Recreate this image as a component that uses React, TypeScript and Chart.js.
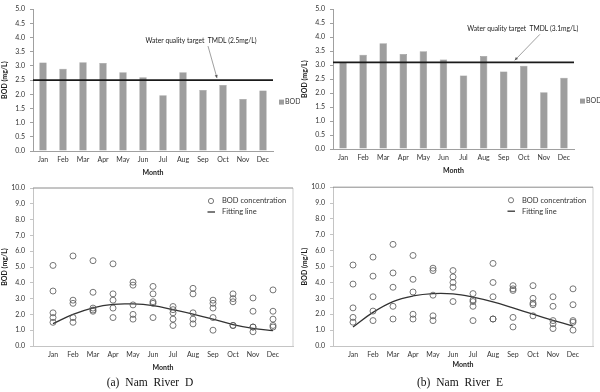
import React, { useEffect, useRef } from "react";
import { Chart, registerables } from "chart.js";
Chart.register(...registerables);

const months = ["Jan", "Feb", "Mar", "Apr", "May", "Jun", "Jul", "Aug", "Sep", "Oct", "Nov", "Dec"];

const bodBarD = [3.12, 2.9, 3.13, 3.1, 2.78, 2.6, 1.97, 2.78, 2.15, 2.33, 1.83, 2.13];
const bodBarE = [3.1, 3.37, 3.78, 3.4, 3.5, 3.2, 2.63, 3.33, 2.77, 2.98, 2.03, 2.55];
const targetD = 2.5;
const targetE = 3.1;
const targetLabelD = "Water quality target  TMDL (2.5mg/L)";
const targetLabelE = "Water quality target  TMDL (3.1mg/L)";

const scatterD = [
  [5.1, 3.48, 2.1, 1.8, 1.5],
  [5.7, 2.9, 2.7, 1.8, 1.5],
  [5.4, 3.4, 2.4, 2.28, 2.2],
  [5.2, 3.3, 2.9, 2.4, 1.8],
  [4.04, 3.85, 2.6, 2.0, 1.7],
  [3.77, 3.3, 2.8, 2.7, 1.8],
  [2.5, 2.3, 2.1, 1.7, 1.3],
  [3.65, 3.3, 2.1, 1.7, 1.4],
  [2.9, 2.7, 2.4, 1.8, 1.0],
  [3.3, 3.0, 2.8, 1.3, 1.3],
  [3.04, 2.2, 1.2, 1.2, 0.9],
  [3.55, 2.2, 1.7, 1.3, 1.2],
];
const fitD = [1.42, 2.0, 2.42, 2.64, 2.66, 2.55, 2.3, 2.02, 1.7, 1.36, 1.12, 0.98];

const scatterE = [
  [5.1, 3.9, 2.4, 1.8, 1.5],
  [5.6, 4.4, 3.1, 2.2, 1.6],
  [6.4, 4.6, 3.7, 2.5, 1.7],
  [5.7, 4.2, 3.4, 2.0, 1.7],
  [4.9, 4.75, 3.2, 1.9, 1.6],
  [4.75, 4.35, 4.0, 3.7, 2.8],
  [3.3, 2.9, 2.8, 2.5, 1.6],
  [5.2, 4.0, 3.1, 1.7, 1.7],
  [3.8, 3.6, 3.5, 1.8, 1.2],
  [3.8, 3.0, 2.7, 2.6, 1.9],
  [3.1, 2.5, 1.6, 1.4, 1.1],
  [3.6, 2.6, 1.6, 1.5, 1.0],
];
const fitE = [1.2, 2.12, 2.8, 3.15, 3.3, 3.28, 3.08, 2.78, 2.4, 2.0, 1.62, 1.25];

const FONT = "Lato, 'Liberation Sans', sans-serif";
const tickFont = { family: FONT, size: 7 };
const titleFont = { family: FONT, size: 7, weight: "bold" as const };

type BarProps = {
  values: number[];
  target: number;
  label: string;
  textAt: [number, number];
  arrowFrom: [number, number];
  arrowTo: number;
  pad: { top: number; right: number; bottom: number };
  left: number;
  top: number;
};

function BarPanel(p: BarProps) {
  const ref = useRef<HTMLCanvasElement>(null);
  useEffect(() => {
    const targetPlugin = {
      id: "target",
      afterDatasetsDraw(chart: any) {
        const { ctx, chartArea, scales } = chart;
        const y = scales.y.getPixelForValue(p.target);
        ctx.save();
        ctx.strokeStyle = "#1a1a1a";
        ctx.lineWidth = 1.8;
        ctx.beginPath();
        ctx.moveTo(chartArea.left, y);
        ctx.lineTo(chartArea.right, y);
        ctx.stroke();
        ctx.fillStyle = "#222";
        ctx.font = `6.7px ${FONT}`;
        ctx.textAlign = "center";
        ctx.textBaseline = "middle";
        ctx.fillText(p.label, scales.x.getPixelForValue(p.textAt[0]), scales.y.getPixelForValue(p.textAt[1]));
        const x1 = scales.x.getPixelForValue(p.arrowFrom[0]);
        const y1 = scales.y.getPixelForValue(p.arrowFrom[1]);
        const x2 = scales.x.getPixelForValue(p.arrowTo);
        const y2 = y - 2;
        ctx.strokeStyle = "#777";
        ctx.lineWidth = 0.7;
        ctx.beginPath();
        ctx.moveTo(x1, y1);
        ctx.lineTo(x2, y2);
        ctx.stroke();
        const ang = Math.atan2(y2 - y1, x2 - x1);
        ctx.fillStyle = "#555";
        ctx.beginPath();
        ctx.moveTo(x2, y2);
        ctx.lineTo(x2 - 3.5 * Math.cos(ang - 0.45), y2 - 3.5 * Math.sin(ang - 0.45));
        ctx.lineTo(x2 - 3.5 * Math.cos(ang + 0.45), y2 - 3.5 * Math.sin(ang + 0.45));
        ctx.closePath();
        ctx.fill();
        const ly = (chartArea.top + chartArea.bottom) / 2 + 22;
        const lx = chartArea.right + 6;
        ctx.fillStyle = "#9e9e9e";
        ctx.fillRect(lx, ly - 2.5, 5, 5);
        ctx.fillStyle = "#333";
        ctx.textAlign = "left";
        ctx.font = `7px ${FONT}`;
        ctx.fillText(chart.data.datasets[0].label, lx + 6, ly);
        ctx.restore();
      },
    };
    const chart = new Chart(ref.current!, {
      type: "bar",
      data: {
        labels: months,
        datasets: [
          {
            label: "BOD",
            data: p.values,
            backgroundColor: "#9e9e9e",
            borderColor: "#8c8c8c",
            borderWidth: 0.5,
            barPercentage: 0.37,
            categoryPercentage: 1,
          },
        ],
      },
      options: {
        animation: false,
        responsive: false,
        devicePixelRatio: 1,
        layout: { padding: { top: p.pad.top, right: p.pad.right, bottom: p.pad.bottom, left: 0 } },
        plugins: { legend: { display: false }, tooltip: { enabled: false } },
        scales: {
          x: {
            grid: { display: false, drawTicks: false, tickLength: 0 },
            border: { color: "#a0a0a0" },
            ticks: { font: tickFont, color: "#333", padding: 5, maxRotation: 0, autoSkip: false },
            title: { display: true, text: "Month", font: titleFont, color: "#222", padding: { top: 1, bottom: 0 } },
            afterFit: (s: any) => {
              s.height = 26;
            },
          },
          y: {
            min: 0,
            max: 5,
            ticks: { stepSize: 0.5, font: tickFont, color: "#333", padding: 5, callback: (v: any) => Number(v).toFixed(1) },
            grid: { drawOnChartArea: false, tickLength: 3, color: "#a0a0a0" },
            border: { color: "#a0a0a0" },
            title: { display: true, text: "BOD (mg/L)", font: titleFont, color: "#222", padding: { top: 1, bottom: 0 } },
            afterFit: (s: any) => {
              s.width = 33;
            },
          },
        },
      },
      plugins: [targetPlugin],
    });
    return () => chart.destroy();
  }, []);
  return (
    <canvas
      ref={ref}
      width={300}
      height={180}
      style={{ position: "absolute", left: p.left, top: p.top, width: 300, height: 180 }}
    />
  );
}

type ScatterProps = {
  values: number[][];
  fit: number[];
  pad: { top: number; right: number; bottom: number };
  xHeight: number;
  left: number;
  top: number;
};

function ScatterPanel(p: ScatterProps) {
  const ref = useRef<HTMLCanvasElement>(null);
  useEffect(() => {
    const points: { x: number; y: number }[] = [];
    p.values.forEach((arr, i) => arr.forEach((v) => points.push({ x: i + 1, y: v })));
    const framePlugin = {
      id: "frame",
      beforeDatasetsDraw(chart: any) {
        const { ctx, chartArea: a } = chart;
        ctx.save();
        ctx.strokeStyle = "#cfcfcf";
        ctx.lineWidth = 1;
        ctx.beginPath();
        ctx.moveTo(a.right, a.top);
        ctx.lineTo(a.right, a.bottom);
        ctx.stroke();
        ctx.strokeStyle = "#8a8a8a";
        ctx.beginPath();
        ctx.moveTo(a.left, a.top);
        ctx.lineTo(a.right, a.top);
        ctx.stroke();
        ctx.restore();
      },
      afterDraw(chart: any) {
        const { ctx, chartArea: a } = chart;
        const ds = chart.data.datasets;
        const cx = a.right - 82;
        const cy = a.top + 13;
        ctx.save();
        ctx.strokeStyle = "#555";
        ctx.lineWidth = 0.8;
        ctx.beginPath();
        ctx.arc(cx, cy, 2.6, 0, Math.PI * 2);
        ctx.stroke();
        ctx.strokeStyle = "#333";
        ctx.lineWidth = 1.3;
        ctx.beginPath();
        ctx.moveTo(cx - 3.5, cy + 11);
        ctx.lineTo(cx + 4, cy + 11);
        ctx.stroke();
        ctx.fillStyle = "#333";
        ctx.font = `7.5px ${FONT}`;
        ctx.textAlign = "left";
        ctx.textBaseline = "middle";
        ctx.fillText(ds[0].label, cx + 11, cy);
        ctx.fillText(ds[1].label, cx + 11, cy + 11);
        ctx.restore();
      },
    };
    const chart = new Chart(ref.current!, {
      type: "scatter",
      data: {
        datasets: [
          {
            type: "scatter",
            label: "BOD concentration",
            data: points,
            pointStyle: "circle",
            pointRadius: 3,
            borderColor: "#555",
            borderWidth: 0.8,
            backgroundColor: "rgba(255,255,255,0)",
          },
          {
            type: "line",
            label: "Fitting line",
            data: p.fit.map((y, i) => ({ x: i + 1, y })),
            borderColor: "#333",
            borderWidth: 1.3,
            pointRadius: 0,
            tension: 0.4,
            fill: false,
          } as any,
        ],
      },
      options: {
        animation: false,
        responsive: false,
        devicePixelRatio: 1,
        layout: { padding: { top: p.pad.top, right: p.pad.right, bottom: p.pad.bottom, left: 0 } },
        plugins: { legend: { display: false }, tooltip: { enabled: false } },
        scales: {
          x: {
            type: "linear",
            min: 0,
            max: 13,
            afterBuildTicks: (s: any) => {
              s.ticks = months.map((_, i) => ({ value: i + 1 }));
            },
            grid: { display: false, drawTicks: false, tickLength: 0 },
            border: { color: "#c4c4c4" },
            ticks: {
              font: tickFont,
              color: "#333",
              padding: 5,
              maxRotation: 0,
              autoSkip: false,
              callback: (v: any) => months[Number(v) - 1] ?? "",
            },
            title: { display: true, text: "Month", font: titleFont, color: "#222", padding: { top: 1, bottom: 0 } },
            afterFit: (s: any) => {
              s.height = p.xHeight;
            },
          },
          y: {
            min: 0,
            max: 10,
            ticks: { stepSize: 1, font: tickFont, color: "#333", padding: 5, callback: (v: any) => Number(v).toFixed(1) },
            grid: { drawOnChartArea: false, tickLength: 3, color: "#c4c4c4" },
            border: { color: "#c4c4c4" },
            title: { display: true, text: "BOD (mg/L)", font: titleFont, color: "#222", padding: { top: 1, bottom: 0 } },
            afterFit: (s: any) => {
              s.width = 33;
            },
          },
        },
      },
      plugins: [framePlugin],
    });
    return () => chart.destroy();
  }, []);
  return (
    <canvas
      ref={ref}
      width={300}
      height={200}
      style={{ position: "absolute", left: p.left, top: p.top, width: 300, height: 200 }}
    />
  );
}

const captionStyle: React.CSSProperties = {
  position: "absolute",
  top: 374,
  width: 300,
  textAlign: "center",
  fontFamily: "'Liberation Serif', 'Times New Roman', serif",
  fontSize: 11.5,
  wordSpacing: 3,
  color: "#111",
  lineHeight: "16px",
};

export default function App() {
  return (
    <div style={{ position: "absolute", left: 0, top: 0, width: 600, height: 392, background: "#fff", overflow: "hidden" }}>
      <BarPanel
        values={bodBarD}
        target={targetD}
        label={targetLabelD}
        textAt={[7.9, 3.87]}
        arrowFrom={[8.25, 3.7]}
        arrowTo={8.7}
        pad={{ top: 5, right: 27, bottom: 3 }}
        left={0}
        top={0}
      />
      <BarPanel
        values={bodBarE}
        target={targetE}
        label={targetLabelE}
        textAt={[8.95, 4.3]}
        arrowFrom={[9.8, 4.1]}
        arrowTo={8.55}
        pad={{ top: 7, right: 26, bottom: 5 }}
        left={300}
        top={0}
      />
      <ScatterPanel values={scatterD} fit={fitD} pad={{ top: 10, right: 7, bottom: 6 }} xHeight={26} left={0} top={178} />
      <ScatterPanel values={scatterE} fit={fitE} pad={{ top: 4, right: 7, bottom: 9 }} xHeight={23} left={300} top={178} />
      <div style={{ ...captionStyle, left: 0 }}>(a) Nam River D</div>
      <div style={{ ...captionStyle, left: 310 }}>(b) Nam River E</div>
    </div>
  );
}
